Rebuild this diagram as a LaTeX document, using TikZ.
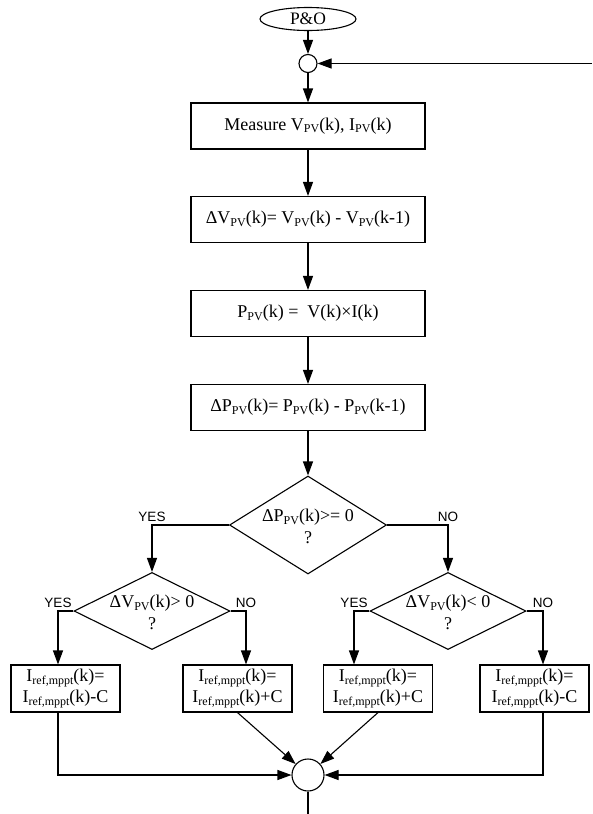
\documentclass[tikz,border=0pt]{standalone}
\usepackage{fontspec}
\setmainfont{Liberation Serif}
\newfontfamily\answerfont{Liberation Sans}
\usetikzlibrary{shapes.geometric,arrows.meta}

% lowered subscripts at a fixed size
\newcommand{\lowsub}[1]{\raisebox{-2.5pt}{\fontsize{12}{12}\selectfont #1}}
\newcommand{\pv}{\lowsub{PV}}
\newcommand{\iref}{I\lowsub{ref,mppt}}

\tikzset{
  every node/.style={font=\fontsize{18}{21}\selectfont, inner sep=0pt},
  wire/.style={line width=1.1pt},
  arrow/.style={wire, -{Triangle[length=14pt,width=10pt]}},
  procbox/.style={draw, line width=1.1pt, rectangle, minimum width=234pt, minimum height=46pt},
  updbox/.style={draw, line width=1.1pt, rectangle, minimum width=109pt, minimum height=47pt, align=center},
  decision/.style={draw, line width=1.1pt, diamond},
  question/.style={align=center, font=\fontsize{18}{22}\selectfont},
  joint/.style={draw, line width=1.1pt, circle},
  answer/.style={font=\answerfont\fontsize{13.5}{15}\selectfont, anchor=south, inner sep=0pt},
}

\begin{document}
\begin{tikzpicture}[x=1pt, y=-1pt]
  \useasboundingbox (0,0) rectangle (592,814);

  % start and main loop junction
  \node[draw, line width=1.1pt, ellipse, minimum width=96pt, minimum height=23pt,
        font=\fontsize{17.5}{21}\selectfont] (start) at (308,19) {P\&O};
  \node[joint, minimum size=18pt] (j1) at (308,63.5) {};
  \coordinate (loopin) at (592,63.5);

  % measurement and computation steps
  \node[procbox] (meas) at (308,126) {Measure V\pv(k), I\pv(k)};
  \node[procbox] (dv) at (308,219.5) {ΔV\pv(k)= V\pv(k) - V\pv(k-1)};
  \node[procbox] (pw) at (308,313.5) {P\pv(k) =\ \ V(k)×I(k)};
  \node[procbox] (dp) at (308,407.5) {ΔP\pv(k)= P\pv(k) - P\pv(k-1)};

  % decisions
  \node[decision, minimum width=157pt, minimum height=98pt] (d1) at (308,525) {};
  \node[decision, minimum width=156pt, minimum height=77pt] (d2) at (152,611) {};
  \node[decision, minimum width=156pt, minimum height=77pt] (d3) at (448,611) {};
  \node[question] (q1) at (308,526.5) {ΔP\pv(k)>= 0\\?};
  \node[question] (q2) at (152,612.5) {ΔV\pv(k)> 0\\?};
  \node[question] (q3) at (448,612.5) {ΔV\pv(k)< 0\\?};

  % reference current updates
  \node[updbox] (b1) at (65.5,688.5) {\iref(k)=\\\iref(k)-C};
  \node[updbox] (b2) at (237.5,688.5) {\iref(k)=\\\iref(k)+C};
  \node[updbox] (b3) at (378,688.5) {\iref(k)=\\\iref(k)+C};
  \node[updbox] (b4) at (534.5,688.5) {\iref(k)=\\\iref(k)-C};

  % merge junction and exit
  \node[joint, minimum size=32pt] (j2) at (308,775) {};
  \coordinate (exit) at (308,814);

  % branch corners
  \coordinate (c1) at (152,525);
  \coordinate (c2) at (448,525);
  \coordinate (c3) at (58,611);
  \coordinate (c4) at (246,611);
  \coordinate (c5) at (354,611);
  \coordinate (c6) at (543,611);

  % main chain
  \draw[arrow] (start) -- (j1);
  \draw[arrow] (loopin) -- (j1);
  \draw[arrow] (j1) -- (meas);
  \draw[arrow] (meas) -- (dv);
  \draw[arrow] (dv) -- (pw);
  \draw[arrow] (pw) -- (dp);
  \draw[arrow] (dp) -- (d1);

  % first decision
  \draw[arrow] (d1.west) -- (c1) -- (d2.north);
  \draw[arrow] (d1.east) -- (c2) -- (d3.north);
  \node[answer] (a1) at ([yshift=3.5pt]c1) {YES};
  \node[answer] (a2) at ([yshift=3.5pt]c2) {NO};

  % second level decisions
  \draw[arrow] (d2.west) -- (c3) -- (c3 |- b1.north);
  \draw[arrow] (d2.east) -- (c4) -- (c4 |- b2.north);
  \draw[arrow] (d3.west) -- (c5) -- (c5 |- b3.north);
  \draw[arrow] (d3.east) -- (c6) -- (c6 |- b4.north);
  \node[answer] (a3) at ([yshift=3.5pt]c3) {YES};
  \node[answer] (a4) at ([yshift=3.5pt]c4) {NO};
  \node[answer] (a5) at ([yshift=3.5pt]c5) {YES};
  \node[answer] (a6) at ([yshift=3.5pt]c6) {NO};

  % merge
  \draw[arrow] (c3 |- b1.south) |- (j2.west);
  \draw[arrow] (b2.south) -- (j2);
  \draw[arrow] (b3.south) -- (j2);
  \draw[arrow] (c6 |- b4.south) |- (j2.east);
  \draw[wire] (j2.south) -- (exit);
\end{tikzpicture}
\end{document}
